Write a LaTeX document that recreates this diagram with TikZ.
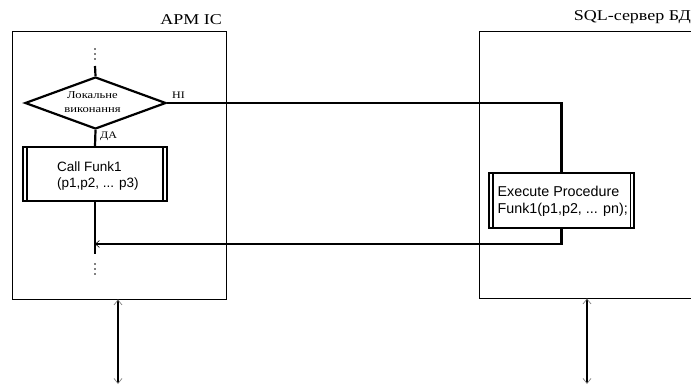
\documentclass[tikz,border=0pt]{standalone}
\usepackage{fontspec}
\setmainfont{Liberation Serif}
\newfontfamily\arialf{Liberation Sans}
\newfontfamily\widef[FakeStretch=1.2]{Liberation Serif}
\usetikzlibrary{shapes.geometric,arrows.meta}
\tikzset{
  graybarb/.tip={Straight Barb[length=5pt,width=8pt,line width=0.7pt,color=gray]},
  flowbarb/.tip={Straight Barb[length=4pt,width=7pt,line width=0.6pt]}
}
\begin{document}
\begin{tikzpicture}[x=1pt,y=-1pt,
  container/.style={draw, line width=0.8pt, rectangle, inner sep=0pt},
  title/.style={inner sep=0pt, anchor=base east, font=\widef\fontsize{15}{17}\selectfont},
  flow/.style={line width=2.2pt},
  procbox/.style={draw, line width=1.6pt, rectangle, inner sep=0pt},
  boxtext/.style={inner sep=0pt, anchor=west, align=left, font=\arialf\fontsize{13.5}{15.5}\selectfont},
  decision/.style={draw, diamond, line width=2.2pt, inner sep=0pt},
  smalllabel/.style={inner sep=0pt, font=\widef\fontsize{10}{12}\selectfont}
]
\useasboundingbox (0,0) rectangle (691,385);
\clip (0,0) rectangle (691,385);

% containers
\node[container, minimum width=214pt, minimum height=267.5pt] (arm) at (119,165.25) {};
\node[container, minimum width=230pt, minimum height=266.5pt] (sql) at (594,164.75) {};
\node[title] (armt) at (222,24.3) {АРМ ІС};
\node[title] (sqlt) at (691,20.7) {SQL-сервер БД};

% dots
\foreach \yy in {49,54,59} \fill (95,\yy) circle (0.9pt);
\foreach \yy in {264,269,274} \fill (95,\yy) circle (0.9pt);

% decision
\node[decision, minimum width=141pt, minimum height=52pt] (dec) at (95.5,103) {};
\node[smalllabel, align=center, font=\widef\fontsize{10.5}{14}\selectfont] (dect) at (92.5,102.5) {Локальне\\виконання};
\node[smalllabel, anchor=base west] (ni) at (172,98.5) {НІ};
\node[smalllabel, anchor=base west] (da) at (100,138.5) {ДА};

% call box
\node[procbox, minimum width=144pt, minimum height=54pt] (call) at (95,174) {};
\draw[line width=1.6pt] ([xshift=5pt]call.north west) -- ([xshift=5pt]call.south west);
\draw[line width=1.6pt] ([xshift=-5pt]call.north east) -- ([xshift=-5pt]call.south east);
\node[boxtext] (callt) at (57,176) {Call Funk1\\(p1,p2, ... p3)};

% execute box
\node[procbox, minimum width=145pt, minimum height=55pt] (exe) at (561.5,200.5) {};
\draw[line width=1.6pt] ([xshift=4.5pt]exe.north west) -- ([xshift=4.5pt]exe.south west);
\draw[line width=1.6pt] ([xshift=-4.5pt]exe.north east) -- ([xshift=-4.5pt]exe.south east);
\node[boxtext, font=\arialf\fontsize{14.3}{17}\selectfont] (exet) at (497.5,201) {Execute Procedure\\Funk1(p1,p2, ... pn);};

% flow lines
\coordinate (top) at (95,66);
\coordinate (bot) at (95,254);
\coordinate (join) at (95,244);
\draw[flow] (top) -- (dec.north);
\draw[flow] (dec.east) -| (exe.north);
\draw[flow] (dec.south) -- (call.north);
\draw[flow] (call.south) -- (bot);
\draw[flow, -flowbarb] (exe.south) |- (join);

% bidirectional links
\coordinate (l2) at (118,384);
\coordinate (r2) at (587,384);
\draw[flow, graybarb-graybarb] (arm.south -| l2) -- (l2);
\draw[flow, graybarb-graybarb] (sql.south -| r2) -- (r2);
\end{tikzpicture}
\end{document}
